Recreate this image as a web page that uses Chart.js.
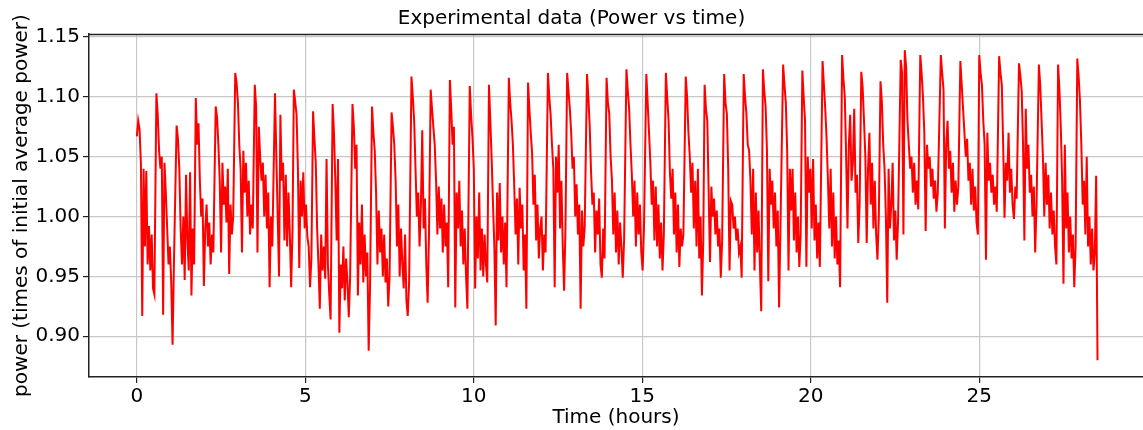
<!DOCTYPE html>
<html>
<head>
<meta charset="utf-8">
<style>
html,body{margin:0;padding:0;background:#fff;}
#wrap{width:1143px;height:430px;position:relative;}
</style>
<script src="https://cdn.jsdelivr.net/npm/chart.js@4/dist/chart.umd.min.js"></script>
</head>
<body>
<div id="wrap"><canvas id="c"></canvas></div>
<script>
const chartTitle = 'Experimental data (Power vs time)';
const xAxisLabel = 'Time (hours)';
const yAxisLabel = 'power (times of initial average power)';
const xTickValues = [0, 5, 10, 15, 20, 25];
const yTickValues = [0.90, 0.95, 1.00, 1.05, 1.10, 1.15];

// sampling interval of the trace (hours)
const sampleStepHours = 0.04;

// start time (hours) of each segment: trace start, then each sawtooth peak
const cycleStartHours = [
  0.00, 0.58, 1.18, 1.75, 2.34, 2.92, 3.50, 4.10, 4.66, 5.23,
  5.81, 6.40, 6.98, 7.56, 8.15, 8.72, 9.29, 9.88, 10.45, 11.04,
  11.61, 12.20, 12.77, 13.36, 13.94, 14.53, 15.12, 15.70, 16.29, 16.85,
  17.43, 18.01, 18.58, 19.18, 19.75, 20.35, 20.93, 21.50, 22.07, 22.67,
  23.25, 23.86, 24.44, 25.00, 25.59, 26.18, 26.77, 27.34, 27.91
];

// power readings (times of initial average power) for each segment
const cyclePower = [
  [1.067, 1.080, 1.073, 1.045, 0.917, 1.040, 0.975, 1.038, 0.960, 0.992, 0.955, 0.985, 0.940, 0.935],
  [1.103, 1.085, 1.055, 1.040, 1.050, 0.918, 1.045, 1.020, 0.990, 0.960, 0.975, 0.945, 0.893, 0.960],
  [1.076, 1.065, 1.040, 0.990, 0.960, 1.000, 0.947, 1.035, 0.980, 0.955, 1.037, 0.934, 0.990, 0.960],
  [1.099, 1.060, 1.078, 1.030, 1.000, 1.015, 0.942, 0.990, 1.010, 0.975, 0.995, 0.960, 0.985, 0.970],
  [1.092, 1.083, 1.060, 1.030, 0.970, 1.045, 1.010, 1.025, 0.995, 1.040, 0.952, 1.010, 0.985, 1.000],
  [1.120, 1.112, 1.095, 1.060, 1.040, 0.970, 1.055, 1.020, 1.045, 1.000, 1.030, 0.985, 1.010, 0.990],
  [1.110, 1.092, 0.970, 1.075, 1.050, 1.030, 1.045, 1.000, 1.035, 0.990, 1.020, 0.941, 1.000, 0.975],
  [1.103, 1.050, 1.000, 0.950, 1.085, 1.030, 1.045, 0.980, 1.035, 0.975, 1.020, 0.985, 0.941, 0.990],
  [1.106, 1.096, 1.085, 1.040, 0.957, 1.030, 1.000, 1.037, 0.990, 1.010, 0.983, 0.975, 0.941, 0.965],
  [1.088, 1.065, 1.045, 0.990, 0.960, 0.923, 0.985, 0.955, 0.975, 0.948, 1.048, 0.960, 0.935, 0.914],
  [1.094, 1.070, 1.030, 0.980, 1.048, 0.903, 0.960, 0.940, 0.975, 0.930, 0.965, 0.945, 0.916, 0.950],
  [1.094, 1.075, 1.040, 1.060, 0.934, 0.995, 0.960, 1.010, 0.945, 0.985, 0.950, 0.970, 0.888, 0.940],
  [1.092, 1.070, 1.055, 1.020, 0.960, 1.005, 0.970, 0.990, 0.950, 0.985, 0.945, 0.965, 0.925, 0.950],
  [1.087, 1.075, 1.060, 1.030, 0.975, 1.010, 0.950, 0.990, 0.960, 0.940, 0.985, 0.930, 0.917, 0.945],
  [1.117, 1.100, 1.080, 1.040, 1.000, 1.020, 0.975, 1.010, 1.072, 0.990, 1.015, 0.960, 0.928, 0.985],
  [1.106, 1.090, 1.075, 1.060, 1.030, 0.985, 1.025, 0.990, 1.015, 0.970, 1.010, 0.975, 0.995, 0.941],
  [1.114, 1.090, 1.060, 1.075, 0.924, 1.020, 0.990, 1.030, 0.975, 1.005, 0.960, 0.990, 0.950, 0.923],
  [1.109, 1.085, 1.066, 1.040, 0.940, 1.000, 0.965, 1.020, 0.955, 0.990, 0.950, 0.985, 0.960, 0.945],
  [1.110, 1.080, 1.048, 1.010, 0.975, 0.909, 1.020, 0.980, 1.028, 0.970, 1.000, 0.960, 0.995, 0.941],
  [1.116, 1.095, 1.080, 1.060, 1.025, 0.985, 1.015, 0.960, 1.024, 0.990, 1.010, 0.955, 0.985, 0.923],
  [1.112, 1.090, 1.070, 1.053, 1.010, 1.035, 0.980, 1.010, 0.965, 0.990, 1.000, 0.955, 0.985, 0.970],
  [1.120, 1.100, 1.085, 1.060, 1.040, 0.941, 1.050, 1.020, 1.060, 0.990, 1.030, 0.975, 0.938, 0.990],
  [1.120, 1.105, 1.090, 1.070, 1.040, 1.050, 1.000, 1.027, 0.985, 1.010, 0.923, 1.005, 0.975, 0.990],
  [1.119, 1.100, 1.075, 1.037, 1.010, 1.020, 0.970, 1.005, 0.985, 1.015, 0.960, 0.949, 0.990, 0.965],
  [1.116, 1.095, 1.086, 1.050, 1.030, 0.985, 1.020, 0.970, 1.005, 0.960, 0.995, 0.975, 0.949, 0.980],
  [1.123, 1.105, 1.090, 1.060, 1.035, 1.000, 1.030, 0.975, 1.020, 0.985, 1.010, 0.970, 0.955, 0.990],
  [1.119, 1.095, 1.070, 1.045, 1.010, 1.030, 0.980, 1.025, 0.975, 1.010, 0.965, 0.995, 0.955, 0.985],
  [1.120, 1.100, 1.080, 1.037, 1.015, 1.040, 0.985, 1.020, 0.970, 1.010, 0.958, 0.990, 0.975, 0.985],
  [1.117, 1.100, 1.070, 1.050, 1.020, 1.045, 0.990, 1.030, 0.975, 1.040, 0.965, 1.000, 0.934, 0.980],
  [1.110, 1.090, 1.080, 1.020, 0.962, 1.025, 1.000, 1.015, 0.985, 1.005, 0.975, 0.990, 0.949, 0.980],
  [1.119, 1.095, 1.086, 1.040, 0.955, 1.013, 1.010, 0.990, 1.000, 0.980, 0.990, 0.970, 0.975, 0.949],
  [1.119, 1.100, 1.086, 1.060, 1.055, 1.030, 0.985, 1.040, 0.955, 1.020, 0.970, 1.005, 0.960, 0.921],
  [1.123, 1.105, 1.092, 1.055, 0.946, 1.040, 1.010, 1.030, 0.990, 1.020, 0.975, 1.005, 0.924, 0.990],
  [1.127, 1.110, 1.095, 1.055, 0.955, 1.040, 1.005, 1.040, 0.980, 1.020, 0.970, 1.000, 0.958, 0.985],
  [1.122, 1.100, 1.080, 0.958, 1.050, 1.020, 1.040, 0.990, 1.048, 0.980, 1.010, 0.965, 0.995, 0.958],
  [1.130, 1.110, 1.090, 1.065, 1.030, 0.990, 1.040, 0.975, 1.020, 0.965, 1.000, 0.960, 0.980, 0.941],
  [1.135, 1.115, 1.100, 1.050, 0.990, 1.060, 1.085, 1.030, 1.045, 1.090, 1.020, 1.035, 0.978, 1.010],
  [1.121, 1.108, 1.080, 1.050, 0.978, 1.040, 1.070, 1.010, 1.045, 0.990, 1.030, 0.985, 0.964, 1.000],
  [1.113, 1.096, 1.060, 1.040, 1.000, 0.928, 1.040, 0.990, 1.010, 1.045, 0.980, 1.005, 0.964, 0.995],
  [1.131, 1.120, 0.985, 1.139, 1.125, 1.080, 1.060, 1.040, 1.050, 1.020, 1.045, 1.010, 1.030, 1.006],
  [1.135, 1.120, 1.100, 1.070, 0.988, 1.060, 1.040, 1.050, 1.025, 1.040, 1.015, 1.030, 1.004, 1.020],
  [1.135, 1.120, 1.106, 0.990, 1.060, 1.080, 1.040, 1.055, 1.020, 1.045, 1.004, 1.030, 1.010, 1.025],
  [1.130, 1.110, 1.090, 1.070, 1.050, 1.065, 1.030, 1.045, 1.010, 1.040, 1.005, 1.025, 0.995, 0.985],
  [1.135, 1.120, 1.110, 1.080, 1.060, 0.964, 1.070, 1.030, 1.045, 1.020, 1.035, 1.010, 1.025, 1.004],
  [1.134, 1.120, 1.110, 1.060, 0.999, 1.045, 1.030, 1.070, 1.020, 1.040, 1.010, 0.998, 1.025, 1.015],
  [1.128, 1.118, 1.105, 1.060, 0.980, 1.090, 1.040, 1.060, 1.020, 1.035, 1.000, 1.025, 0.970, 1.010],
  [1.127, 1.110, 1.080, 1.050, 1.000, 1.045, 1.010, 1.035, 0.990, 1.020, 0.985, 1.005, 0.975, 0.960],
  [1.127, 1.106, 1.075, 1.030, 0.944, 1.060, 0.990, 1.020, 0.970, 1.000, 0.965, 0.985, 0.941, 0.975],
  [1.132, 1.117, 1.096, 1.060, 1.010, 1.030, 0.985, 1.050, 0.975, 1.000, 0.960, 0.990, 0.955, 0.970, 1.034, 0.880]
];

const tracePoints = [];
cycleStartHours.forEach((t0, i) => {
  cyclePower[i].forEach((p, k) => {
    tracePoints.push({ x: Math.round((t0 + k * sampleStepHours) * 100) / 100, y: p });
  });
});

const FONT = 'DejaVu Sans';

const framePlugin = {
  id: 'frame',
  afterDatasetsDraw(chart) {
    const { ctx, chartArea: a } = chart;
    ctx.save();
    ctx.strokeStyle = '#222';
    ctx.lineWidth = 1.5;
    ctx.beginPath();
    ctx.moveTo(a.left, a.top + 0.5);
    ctx.lineTo(a.right, a.top + 0.5);
    ctx.stroke();
    ctx.restore();
  }
};

new Chart(document.getElementById('c'), {
  type: 'line',
  data: {
    datasets: [{
      data: tracePoints,
      borderColor: '#ff0000',
      borderWidth: 2,
      pointRadius: 0,
      tension: 0,
      fill: false
    }]
  },
  options: {
    responsive: true,
    maintainAspectRatio: false,
    animation: false,
    devicePixelRatio: 1,
    layout: { padding: 0 },
    plugins: {
      legend: { display: false },
      tooltip: { enabled: false },
      title: {
        display: true,
        text: chartTitle,
        color: '#000',
        font: { family: FONT, size: 20, weight: 'normal' },
        padding: { top: 7, bottom: 3 }
      }
    },
    scales: {
      x: {
        type: 'linear',
        min: -1.42,
        max: 29.86,
        afterBuildTicks: (axis) => { axis.ticks = xTickValues.map(v => ({ value: v })); },
        afterFit: (axis) => { axis.height = 53; },
        grid: { color: '#c8c8c8', lineWidth: 1.2, tickColor: '#222', tickLength: 6, drawTicks: true },
        border: { color: '#222', width: 1.5 },
        ticks: {
          color: '#000',
          font: { family: FONT, size: 20 },
          padding: 2,
          maxRotation: 0,
          autoSkip: false,
          callback: (v) => String(v)
        },
        title: {
          display: true,
          text: xAxisLabel,
          color: '#000',
          font: { family: FONT, size: 20 },
          padding: { top: 0, bottom: 0 }
        }
      },
      y: {
        type: 'linear',
        min: 0.866,
        max: 1.1525,
        afterBuildTicks: (axis) => { axis.ticks = yTickValues.map(v => ({ value: v })); },
        afterFit: (axis) => { axis.width = 89; },
        grid: { color: '#c8c8c8', lineWidth: 1.2, tickColor: '#222', tickLength: 6, drawTicks: true },
        border: { color: '#222', width: 1.5 },
        ticks: {
          color: '#000',
          font: { family: FONT, size: 20 },
          padding: 3,
          autoSkip: false,
          callback: (v) => Number(v).toFixed(2)
        },
        title: {
          display: true,
          text: yAxisLabel,
          color: '#000',
          font: { family: FONT, size: 20 },
          padding: { top: 10, bottom: 0 }
        }
      }
    }
  },
  plugins: [framePlugin]
});
</script>
</body>
</html>
